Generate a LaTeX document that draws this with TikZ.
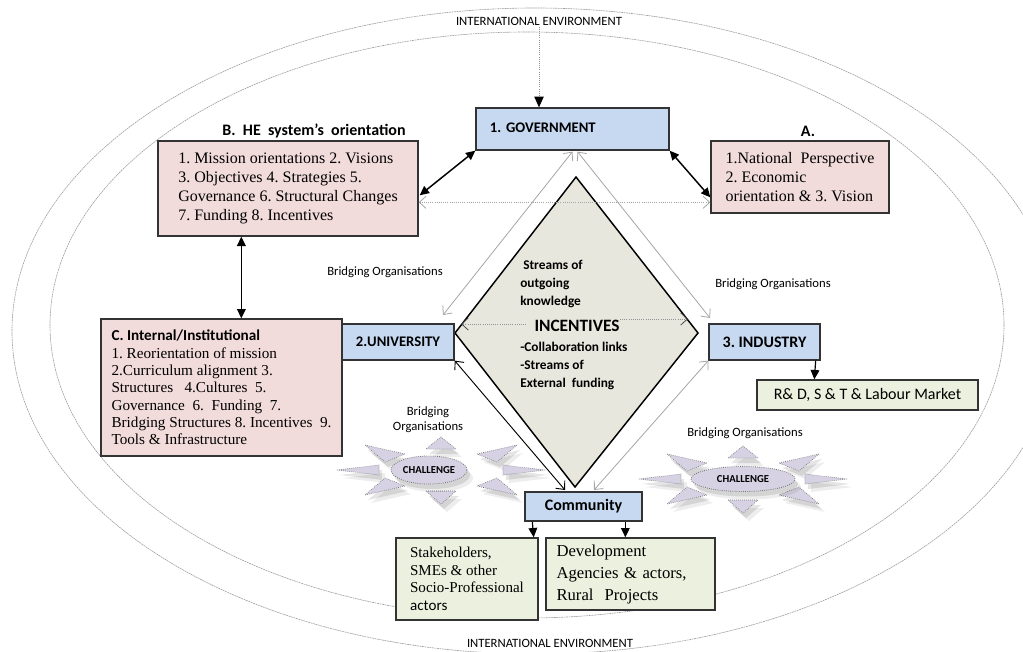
\documentclass[tikz,border=0pt]{standalone}
\usepackage{fontspec}
\setmainfont{Liberation Serif}
\newfontfamily\calib{Carlito}
\usetikzlibrary{arrows.meta,calc,shapes.geometric}
\frenchspacing

\definecolor{govblue}{HTML}{C6D9F1}
\definecolor{pinkfill}{HTML}{F2DCDB}
\definecolor{greenfill}{HTML}{EBF1DE}
\definecolor{diamondfill}{HTML}{E8E7DD}
\definecolor{starfill}{HTML}{D6D2E4}
\definecolor{edgecol}{HTML}{333333}

% the eight spikes of a CHALLENGE burst, relative to its centre
\newcommand\spikes[2]{%
      (#1+0,#2-33) -- (#1-15,#2-21) -- (#1+15,#2-21) -- cycle
      (#1+0,#2+34) -- (#1-15,#2+21) -- (#1+15,#2+21) -- cycle
      (#1-104,#2) -- (#1-62,#2-5) -- (#1-62,#2+5) -- cycle
      (#1+104,#2) -- (#1+62,#2-5) -- (#1+62,#2+5) -- cycle
      (#1-76,#2-25) -- (#1-36,#2-16) -- (#1-56,#2-8) -- cycle
      (#1+76,#2-25) -- (#1+36,#2-16) -- (#1+56,#2-8) -- cycle
      (#1-76,#2+25) -- (#1-36,#2+16) -- (#1-56,#2+8) -- cycle
      (#1+76,#2+25) -- (#1+36,#2+16) -- (#1+56,#2+8) -- cycle}

% one CHALLENGE burst: soft shadow, spikes and the central ellipse
\newcommand\challengestar[6]{%
  \begin{scope}[shift={(#2,#3)}]
    \fill[starshadow, opacity=0.07] \spikes{6}{8};
    \fill[starshadow, opacity=0.10] \spikes{3}{5};
    \filldraw[spike] \spikes{0}{0};
    \fill[starshadow, opacity=0.07] (#4+6,8) ellipse [x radius=#5, y radius=#6];
    \fill[starshadow, opacity=0.10] (#4+3,5) ellipse [x radius=#5, y radius=#6];
    \node[starell, minimum width=#5*1.5pt, minimum height=#6*1.5pt] (#1) at (#4,0) {CHALLENGE};
  \end{scope}}

\begin{document}
\begin{tikzpicture}[x=0.75pt,y=-0.75pt,
  plainbox/.style={draw=edgecol, line width=1pt, inner sep=0pt},
  bluebox/.style={plainbox, fill=govblue, font=\calib\bfseries\fontsize{11}{13}\selectfont},
  pinkbox/.style={plainbox, fill=pinkfill, align=left, font=\fontsize{12}{14.3}\selectfont},
  greenbox/.style={plainbox, fill=greenfill, align=left},
  headtext/.style={font=\calib\bfseries\fontsize{12}{14}\selectfont, inner sep=0pt},
  bridge/.style={font=\calib\fontsize{9.5}{11.3}\selectfont, inner sep=0pt, align=center},
  envtext/.style={font=\calib\fontsize{9.5}{11}\selectfont, inner sep=1pt},
  dtext/.style={font=\calib\bfseries\fontsize{10}{13.5}\selectfont, inner sep=0pt, align=left},
  envline/.style={draw=gray!75, line width=0.45pt, dash pattern=on 1.4pt off 0.5pt},
  bigarrow/.style={draw=black, line width=1.1pt, {Triangle[length=7pt,width=6.5pt]}-{Triangle[length=7pt,width=6.5pt]}},
  feed/.style={draw=black, line width=0.9pt, -{Triangle[length=7pt,width=6.5pt]}},
  grayflow/.style={draw=gray!70, line width=0.6pt, {Straight Barb[length=5pt,width=9pt]}-{Straight Barb[length=5pt,width=9pt]}},
  blackflow/.style={draw=black, line width=0.7pt, {Straight Barb[length=5pt,width=9pt]}-{Straight Barb[length=5pt,width=9pt]}},
  dotflow/.style={draw=gray!85, line width=0.6pt, densely dotted, -{Straight Barb[length=5pt,width=9pt,black!70]}},
  dotboth/.style={draw=gray!70, line width=0.6pt, densely dotted, {Straight Barb[length=5pt,width=9pt]}-{Straight Barb[length=5pt,width=9pt]}},
  dotdown/.style={draw=gray!85, line width=0.6pt, densely dotted, -{Triangle[length=8pt,width=7pt,black]}},
  spike/.style={fill=starfill, draw=black!55, line width=0.5pt, densely dotted},
  starshadow/.style={fill=black},
  starell/.style={ellipse, fill=starfill, draw=black!55, line width=0.6pt, densely dotted, inner sep=0pt,
                  font=\calib\bfseries\fontsize{8}{9}\selectfont},
  diamondline/.style={draw=black, line width=1.1pt, fill=diamondfill}
]
\useasboundingbox (0,0) rectangle (1023,652);
\fill[white] (0,0) rectangle (1023,652);

% environment rings
\begin{scope}
  \clip (0,0) rectangle (1023,652);
  \draw[envline] (535,331) ellipse [x radius=523, y radius=323];
  \draw[envline] (527,325) ellipse [x radius=477, y radius=293];
\end{scope}

\node[envtext] (ieTop) at (539,21) {INTERNATIONAL ENVIRONMENT};
\node[envtext] (ieBot) at (550,643) {INTERNATIONAL ENVIRONMENT};

% central diamond
\coordinate (dT) at (576,177);
\coordinate (dR) at (698,333);
\coordinate (dB) at (575,487);
\coordinate (dL) at (455,333);
\draw[diamondline] (dT) -- (dR) -- (dB) -- (dL) -- cycle;

\node[dtext, anchor=west] (streams) at (520,284) {\ Streams of\\outgoing\\knowledge};
\node[font=\calib\bfseries\fontsize{13}{15}\selectfont, inner sep=0pt] (incent) at (577,326) {INCENTIVES};
\node[dtext, anchor=west] (links) at (520,366) {-Collaboration links\\-Streams of\\External\ \ funding};

\coordinate (inL) at (526,324);
\coordinate (inLtip) at (461,324);
\coordinate (inR) at (620,319);
\coordinate (inRtip) at (688,319);
\draw[dotflow] (inL) -- (inLtip);
\draw[dotflow] (inR) -- (inRtip);

% actors
\node[bluebox, minimum width=144.75pt, minimum height=31.5pt, text width=124pt, align=left] (gov) at (572.5,129) {\raisebox{2pt}{1. GOVERNMENT}};
\node[bluebox, minimum width=84pt, minimum height=27pt] (univ) at (398,342) {2.UNIVERSITY};
\node[bluebox, font=\calib\bfseries\fontsize{12}{14}\selectfont, minimum width=83.25pt, minimum height=27pt] (ind) at (764.5,342) {3. INDUSTRY};
\node[bluebox, font=\calib\bfseries\fontsize{12}{14}\selectfont, minimum width=87.75pt, minimum height=21.75pt] (comm) at (583.5,506.5) {Community};

% orientation boxes
\node[headtext] (titleB) at (314,131) {B.\ \ HE\ \ system’s\ \ orientation};
\node[pinkbox, minimum width=195pt, minimum height=71.25pt] (boxB) at (288,188.5)
  {1. Mission orientations 2. Visions\\3. Objectives 4. Strategies 5.\\Governance 6. Structural Changes\\7. Funding 8. Incentives};
\node[headtext] (titleA) at (808,131) {A.};
\node[pinkbox, minimum width=133.5pt, minimum height=54pt] (boxA) at (800,177)
  {1.National\ \ Perspective\\2. Economic\\orientation \& 3. Vision};
\node[pinkbox, font=\fontsize{11.4}{13}\selectfont, minimum width=180.75pt, minimum height=102.75pt] (boxC) at (221.5,387.5)
  {{\calib\bfseries C. Internal/Institutional}\\1. Reorientation of mission\\2.Curriculum alignment 3.\\Structures\ \ \ 4.Cultures\ \ 5.\\Governance\ \ 6.\ \ Funding\ \ 7.\\Bridging Structures 8. Incentives\ \ 9.\\Tools \& Infrastructure};

% outcome boxes
\node[greenbox, font=\calib\fontsize{12}{14}\selectfont, minimum width=165.75pt, minimum height=22.5pt] (rd) at (867.5,395) {R\& D, S \& T \& Labour Market};
\node[greenbox, font=\fontsize{11.3}{13.2}\selectfont, minimum width=106.5pt, minimum height=61.5pt] (stake) at (467,579)
  {Stakeholders,\\SMEs \& other\\Socio-Professional\\{\calib actors}};
\node[greenbox, font=\fontsize{12.5}{16.5}\selectfont, minimum width=126.75pt, minimum height=54pt, text width=111pt] (dev) at (630.5,574)
  {Development\\Agencies \& actors,\\Rural\ \ Projects};

% bridging organisations
\node[bridge] (bo1) at (385,272) {Bridging Organisations};
\node[bridge] (bo2) at (773,284) {Bridging Organisations};
\node[bridge] (bo3) at (428,420) {Bridging\\Organisations};
\node[bridge] (bo4) at (745,433) {Bridging Organisations};

\challengestar{chL}{441}{470}{-12}{38}{14}
\challengestar{chR}{743}{479}{0}{52}{12.5}

% connectors
\draw[dotdown] (ieTop.south) -- (ieTop.south |- gov.north);

\coordinate (bRight) at ($(boxB.north east)+(1,55)$);
\draw[bigarrow] (bRight) -- (gov.south west);
\coordinate (aLeft) at ($(boxA.north west)+(0,57)$);
\draw[bigarrow] (gov.south east) -- (aLeft);
\draw[bigarrow] ($(boxB.south west)+(84,0)$) -- ($(boxC.north west)+(141,0)$);

\coordinate (bDot) at ($(boxB.north east)+(0,62)$);
\coordinate (aDot) at ($(boxA.north west)+(0,62)$);
\draw[dotboth] (bDot) -- (aDot);

\coordinate (gL) at ($(gov.south)+(0,1)$);
\coordinate (gR) at ($(gov.south)+(5,1)$);
\coordinate (uA) at (443,315);
\coordinate (iA) at (710,318);
\draw[grayflow] (gL) -- (uA);
\draw[grayflow] (gR) -- (iA);

\coordinate (cL) at (565,490);
\coordinate (cR) at (594,490);
\draw[blackflow] (univ.south east) -- (cL);
\draw[grayflow] (ind.south west) -- (cR);

\draw[feed] ($(ind.south east)+(-5,0)$) -- ($(rd.north west)+(58,0)$);
\draw[feed] ($(comm.south west)+(8,0)$) -- ($(stake.north east)+(-5,0)$);
\draw[feed] ($(comm.south west)+(101,0)$) -- ($(dev.north west)+(80,0)$);
\end{tikzpicture}
\end{document}
